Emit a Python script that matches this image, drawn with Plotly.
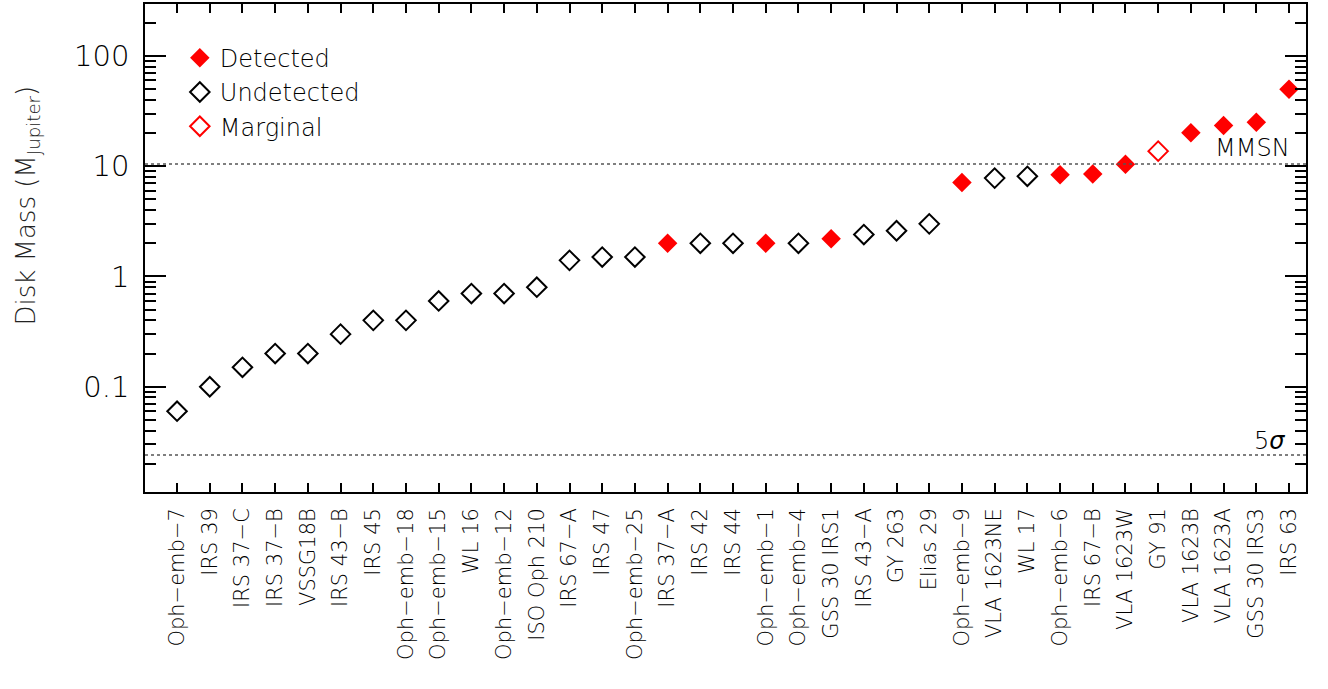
import numpy as np
import plotly.graph_objects as go

# Source names, ordered by increasing disk mass
sources = [
    "Oph−emb−7", "IRS 39", "IRS 37−C", "IRS 37−B", "VSSG18B", "IRS 43−B",
    "IRS 45", "Oph−emb−18", "Oph−emb−15", "WL 16", "Oph−emb−12", "ISO Oph 210",
    "IRS 67−A", "IRS 47", "Oph−emb−25", "IRS 37−A", "IRS 42", "IRS 44",
    "Oph−emb−1", "Oph−emb−4", "GSS 30 IRS1", "IRS 43−A", "GY 263", "Elias 29",
    "Oph−emb−9", "VLA 1623NE", "WL 17", "Oph−emb−6", "IRS 67−B", "VLA 1623W",
    "GY 91", "VLA 1623B", "VLA 1623A", "GSS 30 IRS3", "IRS 63",
]

# Disk mass in Jupiter masses
disk_mass = [
    0.06, 0.10, 0.15, 0.20, 0.20, 0.30,
    0.40, 0.40, 0.60, 0.70, 0.70, 0.80,
    1.4, 1.5, 1.5, 2.0, 2.0, 2.0,
    2.0, 2.0, 2.2, 2.4, 2.6, 3.0,
    7.1, 7.8, 8.1, 8.35, 8.5, 10.4,
    13.7, 20.1, 23.4, 25.1, 50.0,
]

# Detection status: D = detected, U = undetected, M = marginal
status = [
    "U", "U", "U", "U", "U", "U",
    "U", "U", "U", "U", "U", "U",
    "U", "U", "U", "D", "U", "U",
    "D", "U", "D", "U", "U", "U",
    "D", "U", "U", "D", "D", "D",
    "M", "D", "D", "D", "D",
]

mmsn_mass = 10.5      # minimum-mass solar nebula
five_sigma = 0.024    # 5-sigma sensitivity limit

FONT = "DejaVu Sans"
WEIGHT = 300
idx = np.arange(len(sources))


def subset(code):
    sel = [i for i, s in enumerate(status) if s == code]
    return [idx[i] for i in sel], [disk_mass[i] for i in sel]


fig = go.Figure()

styles = [
    ("D", "Detected", dict(symbol="diamond", size=15, color="#ff0000",
                           line=dict(width=0))),
    ("U", "Undetected", dict(symbol="diamond-open", size=15, color="#000000",
                             line=dict(width=2))),
    ("M", "Marginal", dict(symbol="diamond-open", size=15, color="#ff0000",
                           line=dict(width=2))),
]
for code, name, marker in styles:
    xs, ys = subset(code)
    fig.add_trace(go.Scatter(x=xs, y=ys, mode="markers", name=name,
                             marker=marker, showlegend=True))

# Reference levels
for level in (mmsn_mass, five_sigma):
    fig.add_shape(type="line", xref="paper", x0=0, x1=1, yref="y",
                  y0=level, y1=level,
                  line=dict(color="#555555", width=1.5, dash="dot"))

label_font = dict(family=FONT, size=24, color="black", weight=WEIGHT)
fig.add_annotation(text="MMSN", xref="paper", x=0.988, xanchor="right",
                   yref="y", y=np.log10(mmsn_mass), yanchor="bottom", yshift=0,
                   showarrow=False, font=label_font)
fig.add_annotation(text="5<i>σ</i>", xref="paper", x=0.984, xanchor="right",
                   yref="y", y=np.log10(five_sigma), yanchor="bottom", yshift=-2,
                   showarrow=False, font=label_font)

# Y-axis title, placed as a rotated annotation
fig.add_annotation(text="Disk Mass (M<sub>Jupiter</sub>)", textangle=-90,
                   xref="paper", x=-0.102, xanchor="center",
                   yref="paper", y=0.586, yanchor="middle",
                   showarrow=False,
                   font=dict(family=FONT, size=26, color="#222222", weight=WEIGHT))

fig.update_layout(
    width=1328, height=689,
    margin=dict(l=145, r=22, t=2, b=197),
    paper_bgcolor="white", plot_bgcolor="white",
    font=dict(family=FONT, color="black", weight=WEIGHT),
    legend=dict(x=0.03, y=0.935, xanchor="left", yanchor="top",
                bgcolor="rgba(0,0,0,0)",
                font=dict(family=FONT, size=24, weight=WEIGHT),
                tracegroupgap=0),
    showlegend=True,
)

fig.update_xaxes(
    range=[-0.98, len(sources) - 0.48],
    tickmode="array", tickvals=idx, ticktext=sources,
    tickangle=-90, tickfont=dict(family=FONT, size=21, weight=WEIGHT),
    ticks="inside", ticklen=9, tickwidth=1.5, tickcolor="black",
    showline=True, linecolor="black", linewidth=1.5, mirror="ticks",
    showgrid=False, zeroline=False, ticklabelstandoff=6,
)

fig.update_yaxes(
    type="log", range=[np.log10(0.0111), np.log10(296)],
    dtick=1, tickfont=dict(family=FONT, size=29, weight=WEIGHT),
    ticks="inside", ticklen=21, tickwidth=1.5, tickcolor="black",
    minor=dict(ticks="inside", ticklen=11, tickwidth=1.5, tickcolor="black",
               dtick="D1", showgrid=False),
    showline=True, linecolor="black", linewidth=1.5, mirror="ticks",
    showgrid=False, zeroline=False, ticklabelstandoff=8,
)

fig.write_html("out.html")
